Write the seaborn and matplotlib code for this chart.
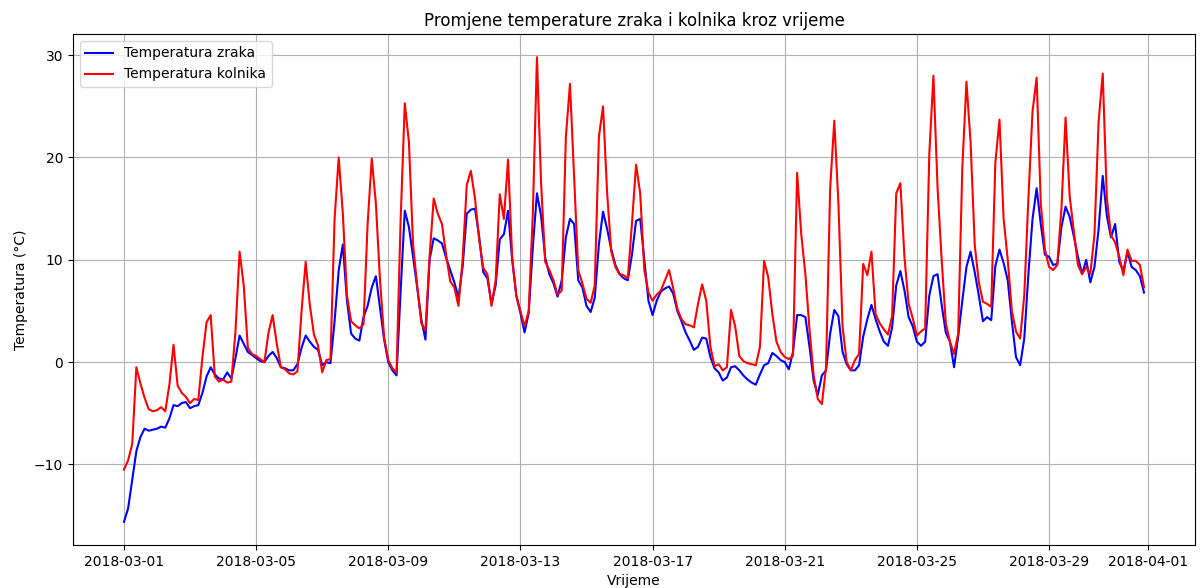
import pandas
import matplotlib
matplotlib.use("Agg")
import matplotlib.pyplot as plt
import seaborn

# readings every 3 hours, starting 2018-03-01 00:00 (one row = one day)
start_date = "2018-03-01"
step = "3h"

air_temp = [
    -15.6, -14.3, -11.5, -8.7, -7.3, -6.5, -6.7, -6.6,
    -6.5, -6.3, -6.4, -5.5, -4.2, -4.3, -4.0, -3.9,
    -4.5, -4.3, -4.2, -3.0, -1.4, -0.5, -1.2, -1.6,
    -1.7, -1.0, -1.6, 0.4, 2.6, 1.8, 1.0, 0.7,
    0.4, 0.1, 0.0, 0.6, 1.0, 0.4, -0.5, -0.6,
    -0.8, -0.8, -0.2, 1.4, 2.6, 2.0, 1.5, 1.2,
    -0.3, 0.0, -0.1, 4.0, 9.0, 11.5, 6.0, 2.8,
    2.3, 2.1, 4.4, 5.5, 7.3, 8.4, 5.3, 2.2,
    0.0, -0.8, -1.3, 7.0, 14.8, 13.2, 10.3, 7.3,
    4.2, 2.2, 10.0, 12.1, 11.9, 11.6, 10.2, 9.0,
    7.8, 6.3, 9.3, 14.5, 14.9, 15.0, 12.3, 8.8,
    8.2, 5.7, 7.5, 12.0, 12.5, 14.8, 10.0, 6.5,
    4.8, 2.9, 4.8, 11.2, 16.5, 14.3, 10.2, 8.6,
    7.7, 6.4, 8.0, 12.2, 14.0, 13.5, 8.0, 7.3,
    5.5, 4.9, 6.3, 11.5, 14.7, 13.0, 11.0, 9.5,
    8.6, 8.2, 8.0, 10.5, 13.8, 14.0, 10.0, 6.0,
    4.6, 6.0, 6.9, 7.2, 7.4, 6.7, 5.0, 4.0,
    2.9, 2.1, 1.2, 1.5, 2.4, 2.3, 0.5, -0.6,
    -1.0, -1.8, -1.5, -0.5, -0.4, -0.8, -1.3, -1.7,
    -2.0, -2.2, -1.2, -0.3, -0.1, 0.9, 0.6, 0.2,
    0.0, -0.7, 1.0, 4.6, 4.6, 4.4, 1.5, -1.8,
    -3.2, -1.3, -0.8, 2.8, 5.1, 4.5, 1.0, -0.2,
    -0.8, -0.8, -0.3, 2.5, 4.2, 5.6, 4.2, 3.0,
    2.0, 1.6, 3.4, 7.5, 8.9, 7.0, 4.4, 3.5,
    2.0, 1.6, 2.0, 6.5, 8.4, 8.6, 5.6, 2.9,
    2.0, -0.5, 2.5, 6.0, 9.3, 10.8, 8.8, 6.5,
    4.0, 4.4, 4.1, 9.4, 11.0, 9.7, 8.0, 4.0,
    0.5, -0.3, 2.3, 8.6, 14.0, 17.0, 13.5, 10.5,
    10.3, 9.5, 9.6, 13.2, 15.2, 14.2, 12.3, 10.3,
    8.6, 10.0, 7.8, 9.3, 13.0, 18.2, 14.3, 12.2,
    13.5, 9.8, 8.9, 10.8, 9.3, 9.0, 8.4, 6.8,
]

road_temp = [
    -10.5, -9.6, -8.0, -0.5, -2.1, -3.5, -4.6, -4.8,
    -4.7, -4.4, -4.8, -2.2, 1.7, -2.3, -3.0, -3.4,
    -4.0, -3.6, -3.7, 0.5, 3.9, 4.6, -1.4, -1.9,
    -1.7, -2.0, -1.9, 3.0, 10.8, 7.5, 1.4, 0.8,
    0.6, 0.3, 0.0, 2.9, 4.6, 1.8, -0.5, -0.7,
    -1.1, -1.2, -0.9, 5.0, 9.8, 5.6, 2.7, 1.6,
    -1.0, 0.2, 0.3, 14.0, 20.0, 14.5, 6.5, 4.0,
    3.6, 3.3, 3.7, 13.5, 19.9, 15.5, 8.0, 2.4,
    0.2, -0.6, -1.0, 14.0, 25.3, 21.5, 11.5, 7.5,
    3.8, 3.1, 10.3, 16.0, 14.5, 13.5, 10.5, 7.9,
    7.3, 5.5, 10.0, 17.3, 18.7, 16.0, 12.0, 9.2,
    8.6, 5.5, 8.0, 16.4, 14.0, 19.8, 10.3, 6.5,
    5.0, 3.5, 5.0, 14.5, 29.8, 17.5, 9.8, 9.0,
    8.0, 6.6, 7.0, 22.0, 27.2, 18.0, 9.0, 7.7,
    6.2, 5.8, 7.5, 22.0, 25.0, 16.5, 10.8, 9.3,
    8.6, 8.5, 8.2, 13.5, 19.3, 16.5, 9.0, 6.8,
    6.0, 6.6, 7.0, 8.0, 9.0, 7.2, 5.2, 4.2,
    3.7, 3.6, 3.4, 5.7, 7.6, 6.0, 1.5, -0.4,
    -0.2, -0.8, -0.5, 5.1, 3.5, 0.6, 0.1, -0.1,
    -0.2, -0.3, 1.5, 9.9, 8.3, 4.7, 2.0, 1.0,
    0.5, 0.3, 0.6, 18.5, 12.5, 8.6, 3.2, -1.3,
    -3.6, -4.1, -0.5, 17.0, 23.6, 15.5, 3.5, 0.0,
    -0.8, 0.2, 0.8, 9.6, 8.5, 10.8, 4.7, 3.8,
    3.2, 2.7, 4.5, 16.5, 17.5, 10.2, 5.7, 4.3,
    2.6, 3.0, 3.3, 20.3, 28.0, 17.1, 10.0, 3.8,
    2.0, 0.8, 2.8, 19.0, 27.4, 21.5, 11.5, 7.8,
    5.9, 5.7, 5.4, 19.5, 23.7, 14.0, 10.0, 5.0,
    3.0, 2.3, 6.5, 16.0, 24.5, 27.8, 15.5, 11.0,
    9.3, 9.0, 9.5, 15.0, 23.9, 16.2, 12.8, 9.5,
    8.6, 9.3, 8.6, 12.5, 23.5, 28.2, 16.0, 12.4,
    11.7, 10.3, 8.5, 11.0, 9.9, 9.9, 9.5, 7.3,
]

times = pandas.date_range(start=start_date, periods=len(air_temp), freq=step)
df = pandas.DataFrame({"Vrijeme": times, "zrak": air_temp, "kolnik": road_temp})

fig, ax = plt.subplots(figsize=(12.02, 5.88), dpi=100)
fig.subplots_adjust(left=0.0607, right=0.9942, top=0.9422, bottom=0.0731)

seaborn.lineplot(data=df, x="Vrijeme", y="zrak", color="blue",
                 label="Temperatura zraka", ax=ax)
seaborn.lineplot(data=df, x="Vrijeme", y="kolnik", color="red",
                 label="Temperatura kolnika", ax=ax)

ax.set_title("Promjene temperature zraka i kolnika kroz vrijeme")
ax.set_xlabel("Vrijeme")
ax.set_ylabel("Temperatura (°C)")
ax.grid(True)
ax.legend(loc="upper left")

fig.savefig("out.png", dpi=100)
